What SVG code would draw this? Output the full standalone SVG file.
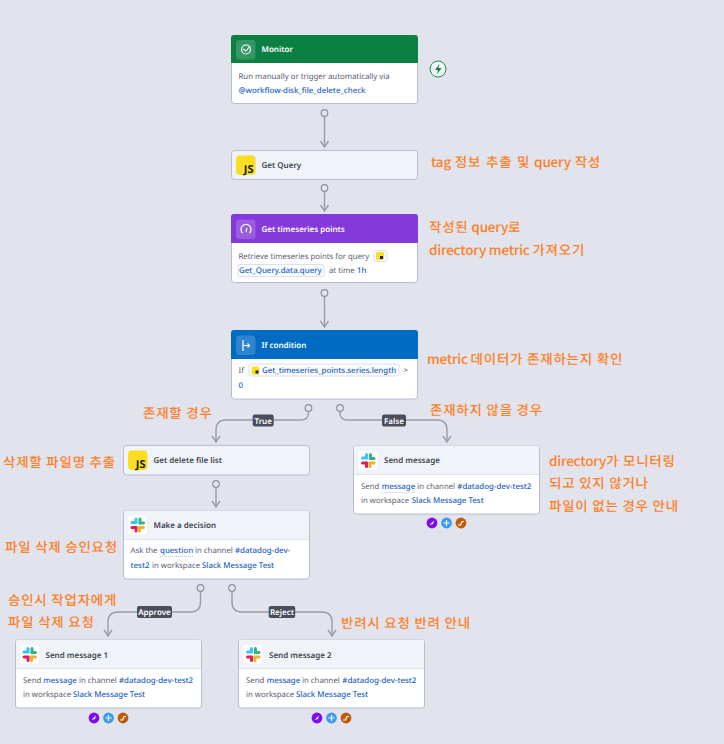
<svg xmlns="http://www.w3.org/2000/svg" xmlns:xlink="http://www.w3.org/1999/xlink" width="724" height="744" viewBox="0 0 724 744">
<style>
text{font-family:"Noto Sans","Noto Sans CJK KR",sans-serif;text-rendering:geometricPrecision}
.card{fill:#fff;stroke:#b9bccd;stroke-width:1}
.hd{fill:#f0f3f8;stroke:none}
.sep{stroke:#dfe3ea;stroke-width:1}
.t{font-size:8px;font-weight:600;fill:#3c4350}
.w{font-size:8px;font-weight:600;fill:#fff}
.b{font-size:7.8px;fill:#5a6070}
.l{fill:#1d5fc1;font-weight:500;font-size:7.9px}
.k{font-family:"Noto Sans CJK KR","Noto Sans",sans-serif;font-size:13.5px;font-weight:500;fill:#ff7f27;letter-spacing:-.2px}
.h{letter-spacing:.75px}
.c{fill:none;stroke:#9a9daa;stroke-width:1.4}
.dot{fill:#e1e4ed;stroke:#8d909c;stroke-width:1.2}
.tag{fill:#4a4e5c}
.tt{font-size:8px;font-weight:600;fill:#fff;text-anchor:middle}
.chip{fill:#fbfcfe;stroke:#d3d8e6;stroke-width:.8}
.ic{fill:#fff;fill-opacity:.18}
.u{stroke:#a9b0c0;stroke-width:.7;stroke-dasharray:1 1}
</style>
<defs>
<marker id="ah" markerWidth="12" markerHeight="12" refX="7" refY="5" orient="auto" markerUnits="userSpaceOnUse" viewBox="0 0 12 12"><path d="M1 1L7 5L1 9" fill="none" stroke="#9a9daa" stroke-width="1.400"/></marker>
<g id="slack">
<rect x="0" y="0" width="19" height="19" rx="4" fill="#fff"/>
<rect x="2.500" y="5.500" width="7" height="3" rx="1.500" fill="#36c5f0"/><rect x="6.500" y="2" width="3" height="6" rx="1.500" fill="#36c5f0"/>
<rect x="10.500" y="2" width="3" height="7" rx="1.500" fill="#2eb67d"/><rect x="10.500" y="6" width="6.500" height="3" rx="1.500" fill="#2eb67d"/>
<rect x="10" y="10.500" width="7" height="3" rx="1.500" fill="#ecb22e"/><rect x="10" y="10.500" width="3" height="6.500" rx="1.500" fill="#ecb22e"/>
<rect x="2.500" y="10.500" width="7" height="3" rx="1.500" fill="#e01e5a"/><rect x="6.500" y="10.500" width="3" height="6.500" rx="1.500" fill="#e01e5a"/>
</g>
<g id="js">
<rect width="19.500" height="19.500" rx="4" fill="#f9de22"/>
<text x="17.500" y="17.200" text-anchor="end" style="font-size:11px;font-weight:700;fill:#1b1b1b">JS</text>
</g>
<g id="mini"><rect width="8" height="8" rx="1.500" fill="#f9de22"/><rect x="4" y="4" width="3" height="3" fill="#222"/></g>
<g id="trio">
<circle cx="0" cy="0" r="5.400" fill="#7f0bf0"/><path d="M-2.500 2L2 -2.500L1 1Z" fill="#fff"/>
<circle cx="14.500" cy="0" r="5.400" fill="#3a9bec"/><path d="M14.500-3V3M11.500 0H17.500" stroke="#fff" stroke-width="1.200"/>
<circle cx="29" cy="0" r="5.400" fill="#c15a0a"/><path d="M26 2H28.500L30 -1.500H32" stroke="#fff" stroke-width="1.200" fill="none"/>
</g>
</defs>
<rect width="724" height="744" fill="#e1e4ed"/>

<g id="connectors">
<path class="c" d="M324.500 117V147" marker-end="url(#ah)"/><circle class="dot" cx="324.500" cy="113" r="3.300"/>
<path class="c" d="M324.500 192V211" marker-end="url(#ah)"/><circle class="dot" cx="324.500" cy="188" r="3.300"/>
<path class="c" d="M324.500 297V327" marker-end="url(#ah)"/><circle class="dot" cx="324.500" cy="293" r="3.300"/>
<path class="c" d="M308.500 412V413Q308.500 420 300 420H226Q216 420 216 430V442" marker-end="url(#ah)"/><circle class="dot" cx="308.500" cy="408" r="3.300"/>
<path class="c" d="M340 412V413Q340 420 348 420H437Q447 420 447 430V442" marker-end="url(#ah)"/><circle class="dot" cx="340" cy="408" r="3.300"/>
<path class="c" d="M216 488V507" marker-end="url(#ah)"/><circle class="dot" cx="216" cy="484" r="3.300"/>
<path class="c" d="M200.500 592V602Q200.500 612 190 612H118Q108 612 108 622V636" marker-end="url(#ah)"/><circle class="dot" cx="200.500" cy="588" r="3.300"/>
<path class="c" d="M232 592V602Q232 612 242 612H322Q332 612 332 622V636" marker-end="url(#ah)"/><circle class="dot" cx="232" cy="588" r="3.300"/>
<rect class="tag" x="252.700" y="414.500" width="21" height="12" rx="2"/><text class="tt" x="263.200" y="423.500">True</text>
<rect class="tag" x="382" y="414.500" width="24" height="12" rx="2"/><text class="tt" x="394" y="423.500">False</text>
<rect class="tag" x="137" y="606" width="35" height="12" rx="2"/><text class="tt" x="154.500" y="615">Approve</text>
<rect class="tag" x="268.700" y="606" width="26.500" height="12" rx="2"/><text class="tt" x="282" y="615">Reject</text>
</g>

<g id="monitor">
<rect class="card" x="231.500" y="35.500" width="186" height="68" rx="3"/>
<path d="M231 63V38a3 3 0 0 1 3-3H415a3 3 0 0 1 3 3V63Z" fill="#0b8043"/>
<rect class="ic" x="236" y="40" width="19.500" height="19.500" rx="3.500"/>
<circle cx="246" cy="49.500" r="4.500" fill="none" stroke="#fff" stroke-width="1.200"/><path d="M243 49l3 2 4-5" fill="none" stroke="#fff" stroke-width="1.200"/>
<text class="w" x="261.500" y="52">Monitor</text>
<text class="b" x="238.500" y="79">Run manually or trigger automatically via</text>
<text class="b l" x="238.500" y="93">@workflow-disk_file_delete_check</text>
</g>
<g id="trigger-badge">
<circle cx="438" cy="69" r="8" fill="#f4f7f6" stroke="#1b8a50" stroke-width="1"/><path d="M439.500 64L435 70H438L437 74.500L441.500 68H438.500Z" fill="#0b8043"/>
</g>

<g id="get-query">
<rect x="231.500" y="150.500" width="186" height="29" rx="3" fill="#f0f3f8" stroke="#b9bccd"/>
<use xlink:href="#js" href="#js" x="236" y="155.500"/>
<text class="t" x="261.500" y="168">Get Query</text>
</g>

<g id="get-timeseries">
<rect class="card" x="231.500" y="214.500" width="186" height="68" rx="3"/>
<path d="M231 243V217a3 3 0 0 1 3-3H415a3 3 0 0 1 3 3V243Z" fill="#843adb"/>
<rect class="ic" x="236" y="219.500" width="19.500" height="19.500" rx="3.500"/>
<path d="M242.500 233a5 5 0 1 1 7 0" fill="none" stroke="#fff" stroke-width="1.200"/><path d="M246 232l1-4" stroke="#fff" stroke-width="1.200"/>
<text class="w" x="261.500" y="232">Get timeseries points</text>
<text class="b" x="238.500" y="259">Retrieve timeseries points for query</text>
<rect class="chip" x="374" y="250.500" width="13" height="11" rx="2"/><use xlink:href="#mini" href="#mini" x="376" y="252"/>
<rect class="chip" x="238" y="264.500" width="86" height="12" rx="2"/>
<text class="b l" x="239" y="273">Get_Query.data.query</text>
<text class="b" x="329" y="273">at time <tspan class="l" x="357">1h</tspan></text>
</g>

<g id="if-condition">
<rect class="card" x="231.500" y="330.500" width="186" height="68.500" rx="3"/>
<path d="M231 359V333a3 3 0 0 1 3-3H415a3 3 0 0 1 3 3V359Z" fill="#006bc2"/>
<rect class="ic" x="236" y="335.500" width="19.500" height="19.500" rx="3.500"/>
<path d="M243 340V351M243 345.500H249M247.500 343.500L249.500 345.500L247.500 347.500" fill="none" stroke="#fff" stroke-width="1.200"/>
<text class="w" x="261.500" y="348">If condition</text>
<text class="b" x="238.500" y="373">If</text>
<rect class="chip" x="249" y="364" width="150" height="12" rx="2"/><use xlink:href="#mini" href="#mini" x="251.500" y="366.500"/>
<text class="b l" x="262" y="373">Get_timeseries_points.series.length</text>
<text class="b" x="403.500" y="373">&gt;</text>
<text class="b l" x="238.500" y="388">0</text>
</g>

<g id="get-delete-file-list">
<rect x="123.500" y="445.500" width="186" height="29.500" rx="3" fill="#f0f3f8" stroke="#b9bccd"/>
<use xlink:href="#js" href="#js" x="128" y="450.500"/>
<text class="t" x="153.500" y="463">Get delete file list</text>
</g>

<g id="make-a-decision">
<rect class="card" x="123.500" y="510.500" width="186" height="68.500" rx="3"/>
<path class="hd" d="M124 539V513a2.500 2.500 0 0 1 2.500-2.500H306.500a2.500 2.500 0 0 1 2.500 2.500V539Z"/>
<path class="sep" d="M124 539.500H309"/>
<use xlink:href="#slack" href="#slack" x="128" y="515.500"/>
<text class="t" x="153.500" y="528">Make a decision</text>
<text class="b" x="130.500" y="553">Ask the <tspan class="l" x="160">question</tspan> <tspan x="195">in channel</tspan> <tspan class="l" x="235">#datadog-dev-</tspan></text>
<path class="u" d="M160 556.500H193"/>
<text class="b" x="130.500" y="568"><tspan class="l">test2</tspan> <tspan x="152">in workspace</tspan> <tspan class="l" x="202">Slack Message Test</tspan></text>
</g>

<g id="send-message">
<rect class="card" x="353.500" y="445.500" width="186" height="68.500" rx="3"/>
<path class="hd" d="M354 474.500V448a2.500 2.500 0 0 1 2.500-2.500H536.500a2.500 2.500 0 0 1 2.500 2.500V474.500Z"/>
<path class="sep" d="M354 474.500H539"/>
<use xlink:href="#slack" href="#slack" x="358.500" y="451"/>
<text class="t" x="384" y="463">Send message</text>
<text class="b" x="361" y="489">Send <tspan class="l" x="381.700">message</tspan> <tspan x="417.300">in channel</tspan> <tspan class="l" x="457.300">#datadog-dev-test2</tspan></text>
<path class="u" d="M381.700 492.500H415"/>
<text class="b" x="361" y="503">in workspace <tspan class="l" x="411.700">Slack Message Test</tspan></text>
<use xlink:href="#trio" href="#trio" x="432" y="523"/>
</g>

<g id="send-message-1">
<rect class="card" x="15.500" y="639.500" width="186" height="68.500" rx="3"/>
<path class="hd" d="M16 668.500V642a2.500 2.500 0 0 1 2.500-2.500H198.500a2.500 2.500 0 0 1 2.500 2.500V668.500Z"/>
<path class="sep" d="M16 668.500H201"/>
<use xlink:href="#slack" href="#slack" x="20" y="645"/>
<text class="t" x="45.500" y="658">Send message 1</text>
<text class="b" x="23" y="683">Send <tspan class="l" x="43.300">message</tspan> <tspan x="79">in channel</tspan> <tspan class="l" x="119">#datadog-dev-test2</tspan></text>
<text class="b" x="23" y="697">in workspace <tspan class="l" x="73">Slack Message Test</tspan></text>
<use xlink:href="#trio" href="#trio" x="94" y="718"/>
</g>

<g id="send-message-2">
<rect class="card" x="238.500" y="639.500" width="186" height="68.500" rx="3"/>
<path class="hd" d="M239 668.500V642a2.500 2.500 0 0 1 2.500-2.500H421.500a2.500 2.500 0 0 1 2.500 2.500V668.500Z"/>
<path class="sep" d="M239 668.500H424"/>
<use xlink:href="#slack" href="#slack" x="243.500" y="645"/>
<text class="t" x="269" y="658">Send message 2</text>
<text class="b" x="246" y="683">Send <tspan class="l" x="266.700">message</tspan> <tspan x="302">in channel</tspan> <tspan class="l" x="342.300">#datadog-dev-test2</tspan></text>
<text class="b" x="246" y="697">in workspace <tspan class="l" x="296">Slack Message Test</tspan></text>
<use xlink:href="#trio" href="#trio" x="317" y="718"/>
</g>

<g id="annotations">
<text class="k" x="431" y="167" word-spacing="1">tag <tspan class="h">정보 추출 및</tspan> query <tspan class="h">작성</tspan></text>
<text class="k" x="429" y="232"><tspan class="h">작성된</tspan> query<tspan class="h">로</tspan></text>
<text class="k" x="429" y="255">directory metric <tspan class="h">가져오기</tspan></text>
<text class="k" x="427" y="364">metric <tspan class="h">데이터가 존재하는지 확인</tspan></text>
<text class="k h" x="143" y="418">존재할 경우</text>
<text class="k h" x="430" y="415">존재하지 않을 경우</text>
<text class="k h" x="3" y="467">삭제할 파일명 추출</text>
<text class="k" x="549" y="466">directory<tspan class="h">가 모니터링</tspan></text>
<text class="k h" x="549" y="488">되고 있지 않거나</text>
<text class="k h" x="549" y="511">파일이 없는 경우 안내</text>
<text class="k h" x="5" y="552">파일 삭제 승인요청</text>
<text class="k h" x="8" y="605">승인시 작업자에게</text>
<text class="k h" x="8" y="627">파일 삭제 요청</text>
<text class="k h" x="341" y="628">반려시 요청 반려 안내</text>
</g>
</svg>
